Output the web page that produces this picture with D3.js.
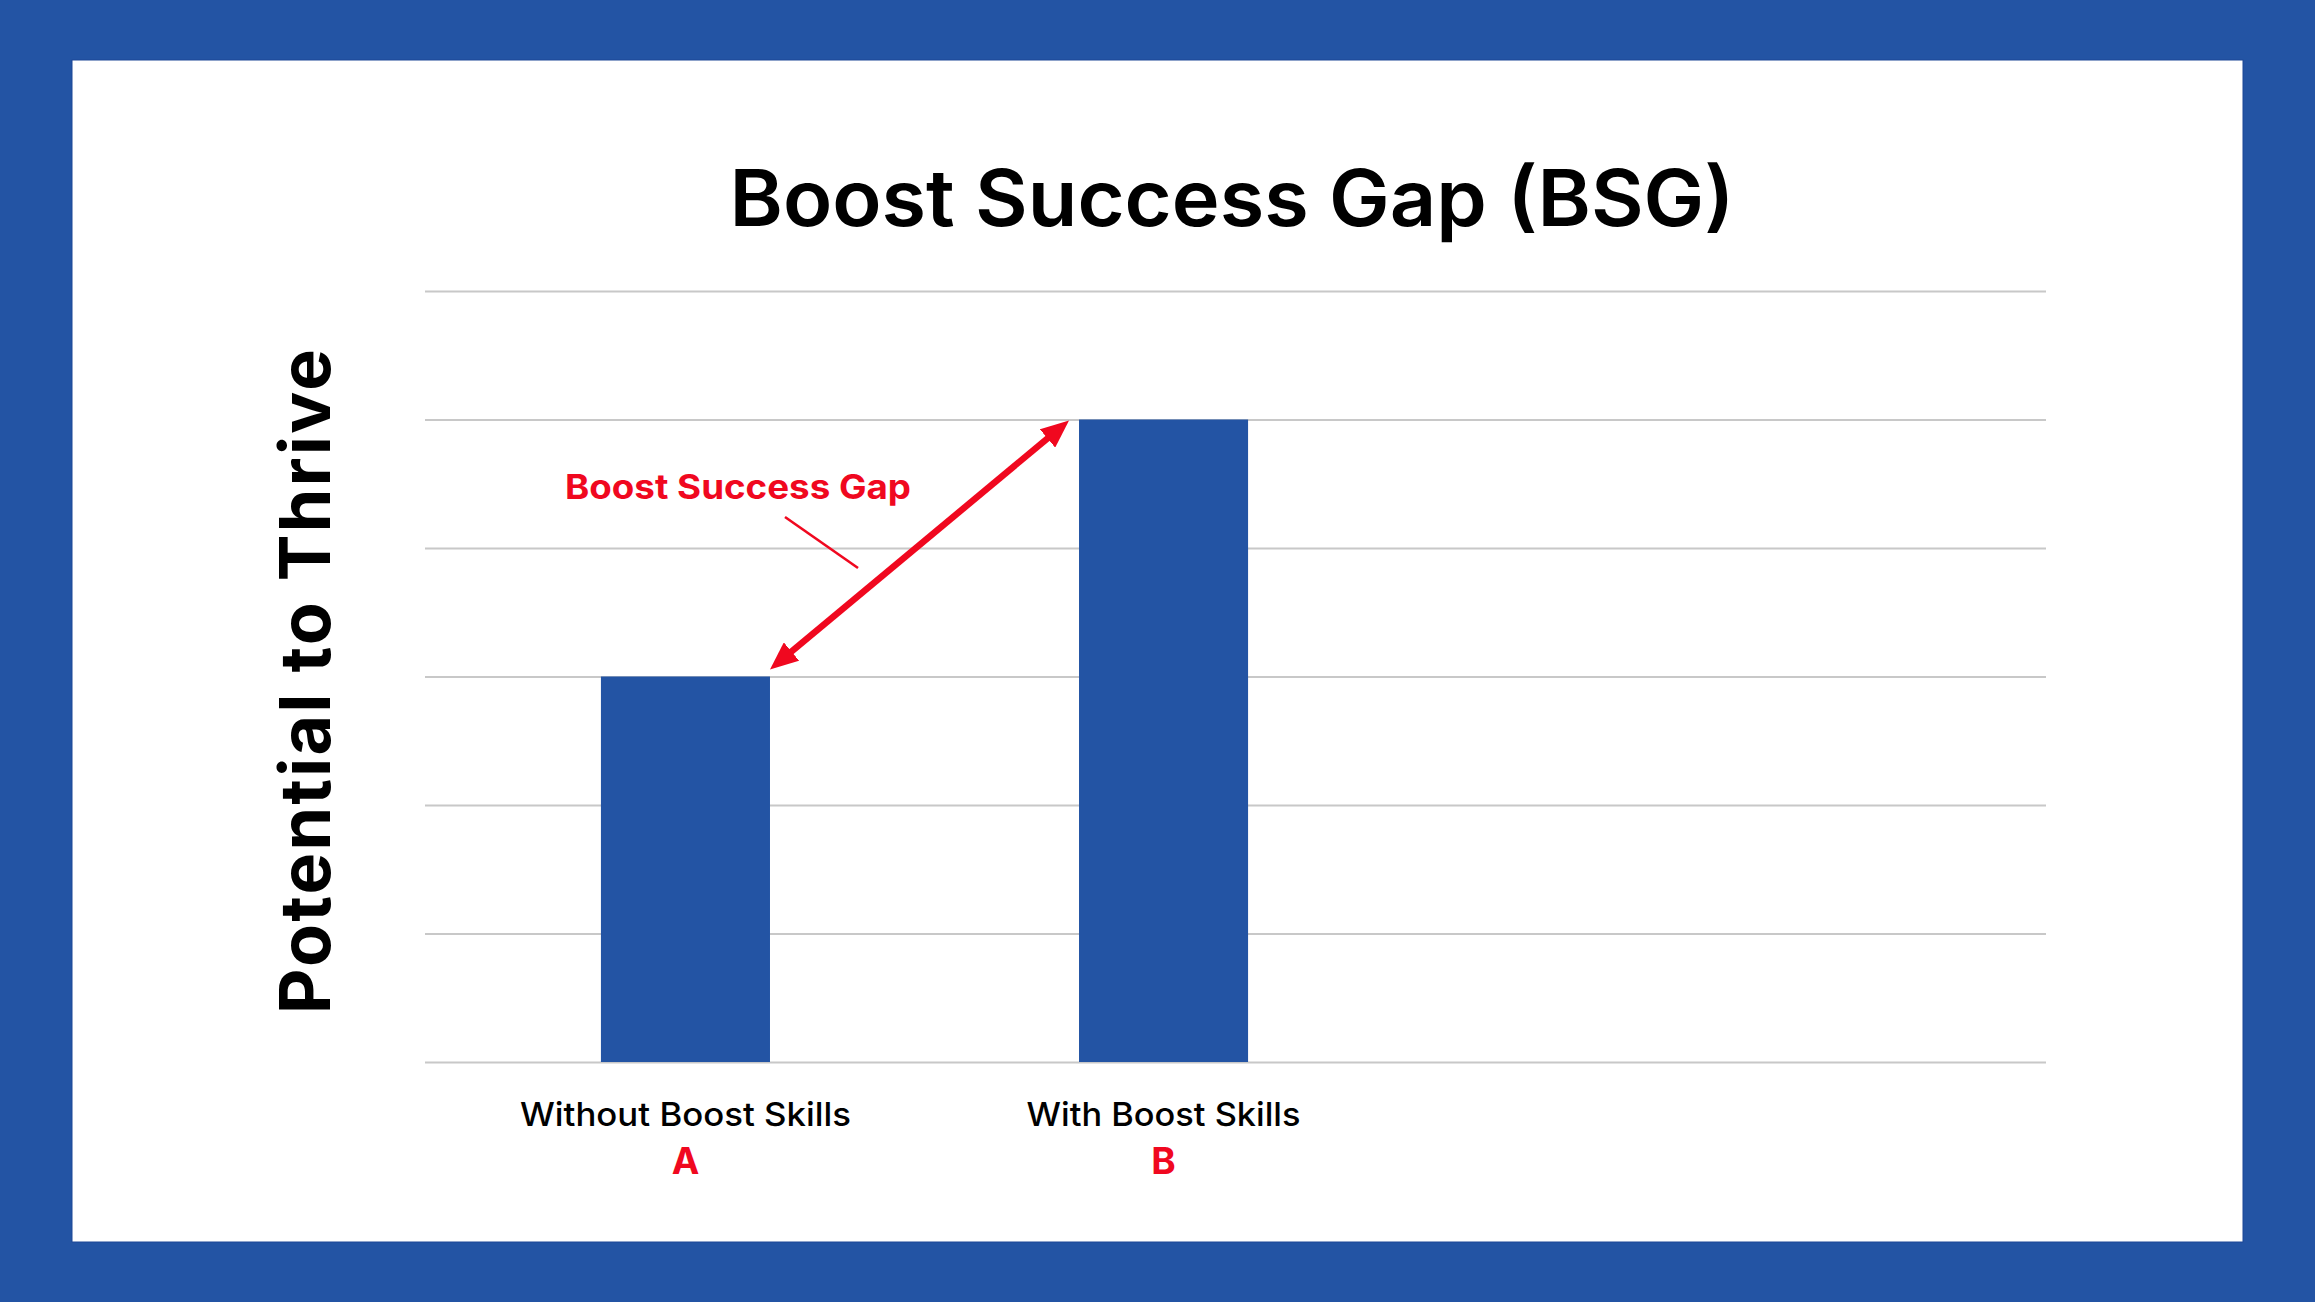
<!DOCTYPE html>
<html>
<head>
<meta charset="utf-8">
<script src="https://cdn.jsdelivr.net/npm/d3@7"></script>
<style>
  html, body { margin: 0; padding: 0; background: #2354a4; }
  svg { display: block; }
  text { font-family: Inter, "Open Sans", sans-serif; }
</style>
</head>
<body>
<div id="chart"></div>
<script>
// ------------------------------------------------------------
// Boost Success Gap (BSG) — two bars, double arrow annotation
// ------------------------------------------------------------

// data
const categories = ['Without Boost Skills', 'With Boost Skills'];
const letters = ['A', 'B'];
const values = [3, 5];
const yTicks = [0, 1, 2, 3, 4, 5, 6];

const W = 2315, H = 1302;
const blue = '#2354a4';
const red = '#f0081f';

const panel = { x: 72, y: 60, w: 2171, h: 1182 };
const plot = { left: 425, right: 2046, top: 291, bottom: 1062 };

const svg = d3.select('#chart').append('svg')
  .attr('width', W).attr('height', H)
  .attr('viewBox', `0 0 ${W} ${H}`);

// frame
svg.append('rect').attr('width', W).attr('height', H).attr('fill', blue);
svg.append('rect')
  .attr('x', panel.x).attr('y', panel.y)
  .attr('width', panel.w).attr('height', panel.h)
  .attr('fill', '#fff')
  .attr('stroke', '#1c4796').attr('stroke-width', 1);

// scales
const yScale = d3.scaleLinear()
  .domain([0, d3.max(yTicks)])
  .range([plot.bottom, plot.top]);

const xScale = d3.scaleBand()
  .domain(categories)
  .range([plot.left, 1424])
  .paddingInner(0.6464)
  .paddingOuter(0.368);

const bw = xScale.bandwidth();

// grid lines
svg.append('g')
  .attr('transform', `translate(${plot.left},0)`)
  .call(d3.axisLeft(yScale).tickValues(yTicks).tickSize(-(plot.right - plot.left)).tickFormat(''))
  .call(g => g.select('.domain').remove())
  .call(g => g.selectAll('line').style('stroke', '#c8c8c8').style('stroke-width', '2.2'));

// bars
svg.selectAll('.bar')
  .data(values)
  .join('rect')
  .attr('class', 'bar')
  .attr('x', (d, i) => xScale(categories[i]))
  .attr('y', d => yScale(d))
  .attr('width', bw)
  .attr('height', d => yScale(0) - yScale(d))
  .attr('fill', blue);

const catWidths = [331, 274];
svg.selectAll('.cat')
  .data(categories)
  .join('text')
  .attr('class', 'cat')
  .attr('x', d => xScale(d) + bw / 2)
  .attr('y', 1126)
  .attr('text-anchor', 'middle')
  .attr('textLength', (d, i) => catWidths[i])
  .attr('lengthAdjust', 'spacingAndGlyphs')
  .style('font-size', '33px').style('font-weight', '500').style('fill', '#000')
  .text(d => d);

svg.selectAll('.letter')
  .data(letters)
  .join('text')
  .attr('class', 'letter')
  .attr('x', (d, i) => xScale(categories[i]) + bw / 2)
  .attr('y', 1174)
  .attr('text-anchor', 'middle')
  .style('font-size', '37px').style('font-weight', '700').style('fill', red)
  .text(d => d);

// title
svg.append('text')
  .attr('x', 1232).attr('y', 226)
  .attr('text-anchor', 'middle')
  .attr('textLength', 1005)
  .attr('lengthAdjust', 'spacingAndGlyphs')
  .style('font-size', '78px').style('font-weight', '600').style('fill', '#000')
  .text('Boost Success Gap (BSG)');

// y axis title
svg.append('text')
  .attr('transform', `translate(330,${(plot.top + plot.bottom) / 2 + 5}) rotate(-90)`)
  .attr('text-anchor', 'middle')
  .attr('textLength', 665)
  .style('font-size', '70px').style('font-weight', '700').style('fill', '#000')
  .text('Potential to Thrive');

// double arrow between bar tops
const defs = svg.append('defs');
defs.append('marker')
  .attr('id', 'head')
  .attr('viewBox', '0 -12 28 24')
  .attr('refX', 14).attr('refY', 0)
  .attr('markerWidth', 28).attr('markerHeight', 24)
  .attr('markerUnits', 'userSpaceOnUse')
  .attr('orient', 'auto-start-reverse')
  .append('path')
  .attr('d', 'M0,-12L28,0L0,12Z')
  .attr('fill', red);

const tipA = [xScale(categories[0]) + bw, yScale(values[0]) - 7];
const tipB = [xScale(categories[1]) - 10, yScale(values[1]) + 1];
const dx = tipB[0] - tipA[0], dy = tipB[1] - tipA[1];
const len = Math.hypot(dx, dy);
const ux = dx / len, uy = dy / len;

svg.append('line')
  .attr('x1', tipA[0] + ux * 14).attr('y1', tipA[1] + uy * 14)
  .attr('x2', tipB[0] - ux * 14).attr('y2', tipB[1] - uy * 14)
  .attr('stroke', red).attr('stroke-width', 6.5)
  .attr('marker-start', 'url(#head)')
  .attr('marker-end', 'url(#head)');

// annotation label + leader
svg.append('text')
  .attr('x', 565).attr('y', 499)
  .attr('textLength', 346)
  .attr('lengthAdjust', 'spacingAndGlyphs')
  .style('font-size', '34px').style('font-weight', '700').style('fill', red)
  .text('Boost Success Gap');

svg.append('line')
  .attr('x1', 785).attr('y1', 517)
  .attr('x2', 858).attr('y2', 568)
  .attr('stroke', red).attr('stroke-width', 2.6);
</script>
</body>
</html>
